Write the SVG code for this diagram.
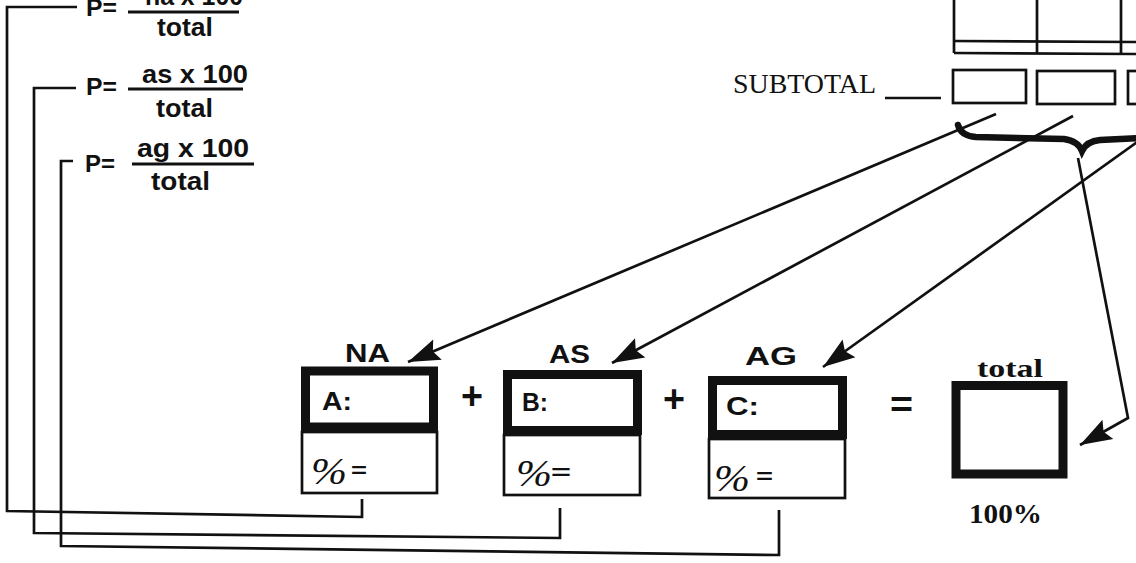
<svg xmlns="http://www.w3.org/2000/svg" width="1136" height="563" viewBox="0 0 1136 563">
<style>
.ln{fill:none;stroke:#111;stroke-width:2.7;stroke-linejoin:miter}
.thick{fill:#fff;stroke:#111;stroke-width:9}
.thin{fill:#fff;stroke:#111;stroke-width:2.7}
.sans{font-family:"Liberation Sans",Arial,sans-serif;font-weight:bold;fill:#111}
.serif{font-family:"Liberation Serif","Times New Roman",serif;fill:#111}
.frac{stroke:#111;stroke-width:3}
</style>
<defs>
<marker id="ah" markerUnits="userSpaceOnUse" markerWidth="32" markerHeight="22" refX="32" refY="11" orient="auto" overflow="visible">
<path d="M0,0 L32,11 L0,22 L5,11 z" fill="#111"/>
</marker>
</defs>
<rect width="1136" height="563" fill="#fff"/>

<g id="formula-na">
<text class="sans" x="86" y="16" font-size="24" textLength="31" lengthAdjust="spacingAndGlyphs">P=</text>
<text class="sans" x="145" y="5" font-size="25" textLength="98" lengthAdjust="spacingAndGlyphs">na x 100</text>
<line class="frac" x1="128" y1="12" x2="239" y2="12"/>
<text class="sans" x="157" y="36" font-size="25" textLength="56" lengthAdjust="spacingAndGlyphs">total</text>
</g>
<g id="formula-as">
<text class="sans" x="86" y="95" font-size="24" textLength="31" lengthAdjust="spacingAndGlyphs">P=</text>
<text class="sans" x="142" y="83" font-size="25" textLength="106" lengthAdjust="spacingAndGlyphs">as x 100</text>
<line class="frac" x1="128" y1="89" x2="243" y2="89"/>
<text class="sans" x="156" y="117" font-size="25" textLength="57" lengthAdjust="spacingAndGlyphs">total</text>
</g>
<g id="formula-ag">
<text class="sans" x="85" y="172" font-size="24" textLength="30" lengthAdjust="spacingAndGlyphs">P=</text>
<text class="sans" x="137" y="157" font-size="25" textLength="112" lengthAdjust="spacingAndGlyphs">ag x 100</text>
<line class="frac" x1="132" y1="164" x2="254" y2="164"/>
<text class="sans" x="151" y="190" font-size="25" textLength="59" lengthAdjust="spacingAndGlyphs">total</text>
</g>

<g id="table">
<line class="ln" x1="954" y1="0" x2="954" y2="53"/>
<line class="ln" x1="1037" y1="0" x2="1037" y2="54"/>
<line class="ln" x1="1121" y1="0" x2="1121" y2="54"/>
<line class="ln" x1="954" y1="41" x2="1136" y2="42"/>
<line class="ln" x1="954" y1="53" x2="1136" y2="54"/>
</g>

<g id="subtotal">
<text class="serif" x="733" y="93" font-size="27" textLength="143" lengthAdjust="spacingAndGlyphs">SUBTOTAL</text>
<line class="ln" x1="885" y1="98" x2="941" y2="98"/>
<rect class="thin" x="953" y="70" width="73" height="33"/>
<rect class="thin" x="1037" y="71" width="78" height="33"/>
<rect class="thin" x="1128" y="71" width="20" height="33"/>
</g>

<g id="brace">
<path d="M958,125 Q961,136 976,137 L1064,139 Q1078,141 1082,151 Q1087,141 1100,140 L1140,138" fill="none" stroke="#111" stroke-width="6.5" stroke-linecap="round"/>
</g>

<g id="box-na">
<text class="sans" x="345" y="362" font-size="25" textLength="45" lengthAdjust="spacingAndGlyphs">NA</text>
<rect class="thin" x="302" y="432" width="135" height="61"/>
<rect class="thick" x="305.5" y="371" width="128" height="56"/>
<text class="sans" x="322" y="410" font-size="25" font-weight="normal" textLength="30" lengthAdjust="spacingAndGlyphs">A:</text>
<text class="serif" x="311" y="484" font-size="38" font-style="italic" textLength="36" lengthAdjust="spacingAndGlyphs">%</text>
<text class="sans" x="351" y="477" font-size="20" font-weight="normal" textLength="16" lengthAdjust="spacingAndGlyphs">=</text>
</g>

<g id="plus-1"><text class="sans" x="461" y="409" font-size="38" textLength="22" lengthAdjust="spacingAndGlyphs">+</text></g>

<g id="box-as">
<text class="sans" x="549" y="363" font-size="25" textLength="41" lengthAdjust="spacingAndGlyphs">AS</text>
<rect class="thin" x="504" y="435" width="136" height="60"/>
<rect class="thick" x="507.5" y="374.5" width="130" height="56"/>
<text class="sans" x="522" y="411" font-size="25" font-weight="normal" textLength="26" lengthAdjust="spacingAndGlyphs">B:</text>
<text class="serif" x="516" y="486" font-size="38" font-style="italic" textLength="36" lengthAdjust="spacingAndGlyphs">%</text>
<text class="sans" x="551" y="479" font-size="20" font-weight="normal" textLength="20" lengthAdjust="spacingAndGlyphs">=</text>
</g>

<g id="plus-2"><text class="sans" x="663" y="412" font-size="38" textLength="22" lengthAdjust="spacingAndGlyphs">+</text></g>

<g id="box-ag">
<text class="sans" x="745" y="365" font-size="25" textLength="52" lengthAdjust="spacingAndGlyphs">AG</text>
<rect class="thin" x="709" y="439" width="136" height="59"/>
<rect class="thick" x="712.5" y="380.5" width="130" height="54"/>
<text class="sans" x="726" y="415" font-size="25" font-weight="normal" textLength="33" lengthAdjust="spacingAndGlyphs">C:</text>
<text class="serif" x="714" y="491" font-size="38" font-style="italic" textLength="36" lengthAdjust="spacingAndGlyphs">%</text>
<text class="sans" x="756" y="483" font-size="20" font-weight="normal" textLength="17" lengthAdjust="spacingAndGlyphs">=</text>
</g>

<g id="equals"><text class="sans" x="890" y="417" font-size="36" textLength="23" lengthAdjust="spacingAndGlyphs">=</text></g>

<g id="box-total">
<text class="serif" x="977" y="377" font-size="26" font-weight="bold" textLength="66" lengthAdjust="spacingAndGlyphs">total</text>
<rect class="thick" x="956" y="385.5" width="107" height="88.5"/>
<text class="serif" x="969" y="523" font-size="27" font-weight="bold" textLength="73" lengthAdjust="spacingAndGlyphs">100%</text>
</g>

<g id="connectors">
<path class="ln" d="M77,7 L7,7 L7,511 L362,517 L362,499"/>
<path class="ln" d="M76,88 L34,88 L34,533 L560,538 L560,508"/>
<path class="ln" d="M73,161 L61,161 L61,546 L779,555 L779,510"/>
<line class="ln" x1="996" y1="114" x2="408" y2="362" marker-end="url(#ah)"/>
<line class="ln" x1="1073" y1="116" x2="612" y2="363" marker-end="url(#ah)"/>
<line class="ln" x1="1140" y1="140" x2="823" y2="367" marker-end="url(#ah)"/>
<polyline class="ln" points="1078,158 1128,418 1080,445" marker-end="url(#ah)"/>
</g>
</svg>
